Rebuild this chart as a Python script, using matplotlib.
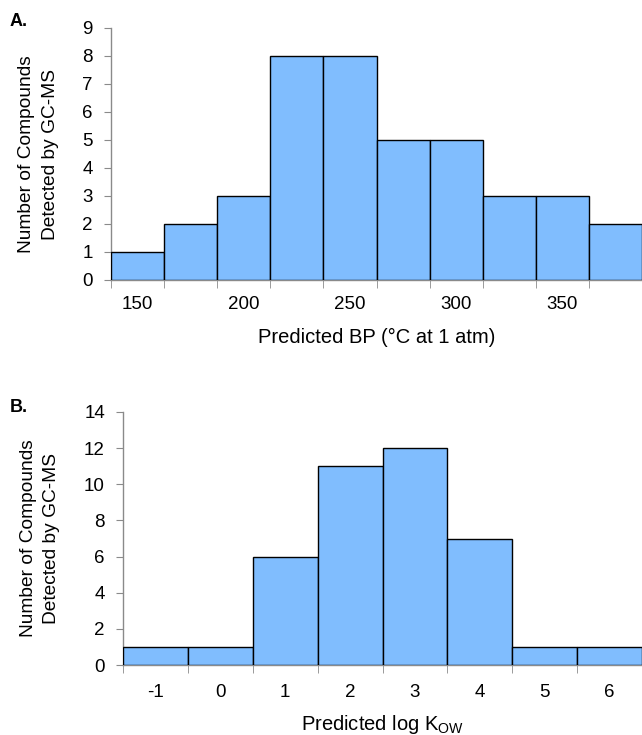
import numpy as np
import matplotlib
matplotlib.use('Agg')
import matplotlib.pyplot as plt
from matplotlib.ticker import FixedLocator

plt.rcParams['font.family'] = ['Liberation Sans', 'DejaVu Sans']
plt.rcParams['mathtext.fontset'] = 'custom'
plt.rcParams['mathtext.rm'] = 'Liberation Sans'
plt.rcParams['axes.unicode_minus'] = False

# Панель A: температура кипения
bp_centers = [150, 175, 200, 225, 250, 275, 300, 325, 350, 375]
bp_counts = [1, 2, 3, 8, 8, 5, 5, 3, 3, 2]
bp_ticks = [150, 200, 250, 300, 350]
bp_ticklabels = ['150', '200', '250', '300', '350']

# Панель B: log Kow
kow_centers = [-1, 0, 1, 2, 3, 4, 5, 6]
kow_counts = [1, 1, 6, 11, 12, 7, 1, 1]
kow_ticklabels = ['-1', '0', '1', '2', '3', '4', '5', '6']

bar_color = '#80bdfe'
axis_color = '#8a8a8a'
tick_fs = 13.5
lab_fs = 14.5
ylab = 'Number of Compounds\nDetected by GC-MS'

fig = plt.figure(figsize=(6.42, 7.35), dpi=100)
ax1 = fig.add_axes([111 / 642, 1 - 280 / 735, 1 - 111 / 642, 252 / 735])
ax2 = fig.add_axes([123 / 642, 1 - 665 / 735, 1 - 123 / 642, 253 / 735])


def style(ax, centers, width, ymax, ystep, ticks, ticklabels, xpad):
    edges = np.arange(len(centers) + 1) * width + centers[0] - width / 2
    ax.set_xlim(edges[0], edges[-1])
    ax.set_ylim(0, ymax)
    ax.set_yticks(np.arange(0, ymax + 1, ystep))
    ax.set_xticks(ticks)
    ax.set_xticklabels(ticklabels)
    ax.xaxis.set_minor_locator(FixedLocator(edges))
    ax.tick_params(axis='x', which='major', length=0, pad=xpad, labelsize=tick_fs)
    ax.tick_params(axis='x', which='minor', length=6, color=axis_color, direction='out')
    ax.tick_params(axis='y', length=5, color=axis_color, labelsize=tick_fs, pad=8)
    for s in ['top', 'right']:
        ax.spines[s].set_visible(False)
    for s in ['left', 'bottom']:
        ax.spines[s].set_color(axis_color)
        ax.spines[s].set_linewidth(1)


ax1.bar(bp_centers, bp_counts, width=25, color=bar_color, edgecolor='black', linewidth=1, zorder=3)
style(ax1, bp_centers, 25, 9, 1, bp_ticks, bp_ticklabels, 11.5)
ax1.set_xlabel('Predicted BP (°C at 1 atm)', fontsize=lab_fs, labelpad=11)
ax1.set_ylabel(ylab, fontsize=13.8, labelpad=17, linespacing=1.5)

ax2.bar(kow_centers, kow_counts, width=1, color=bar_color, edgecolor='black', linewidth=1, zorder=3)
style(ax2, kow_centers, 1, 14, 2, kow_centers, kow_ticklabels, 14)
ax2.set_xlabel(r'Predicted log K$_{\mathrm{OW}}$', fontsize=lab_fs, labelpad=8)
ax2.set_ylabel(ylab, fontsize=13.8, labelpad=17, linespacing=1.5)

fig.text(10 / 642, 1 - 21 / 735, 'A.', fontsize=13, fontweight='bold', va='center', ha='left')
fig.text(10 / 642, 1 - 407 / 735, 'B.', fontsize=13, fontweight='bold', va='center', ha='left')

fig.savefig('out.png', dpi=100)
